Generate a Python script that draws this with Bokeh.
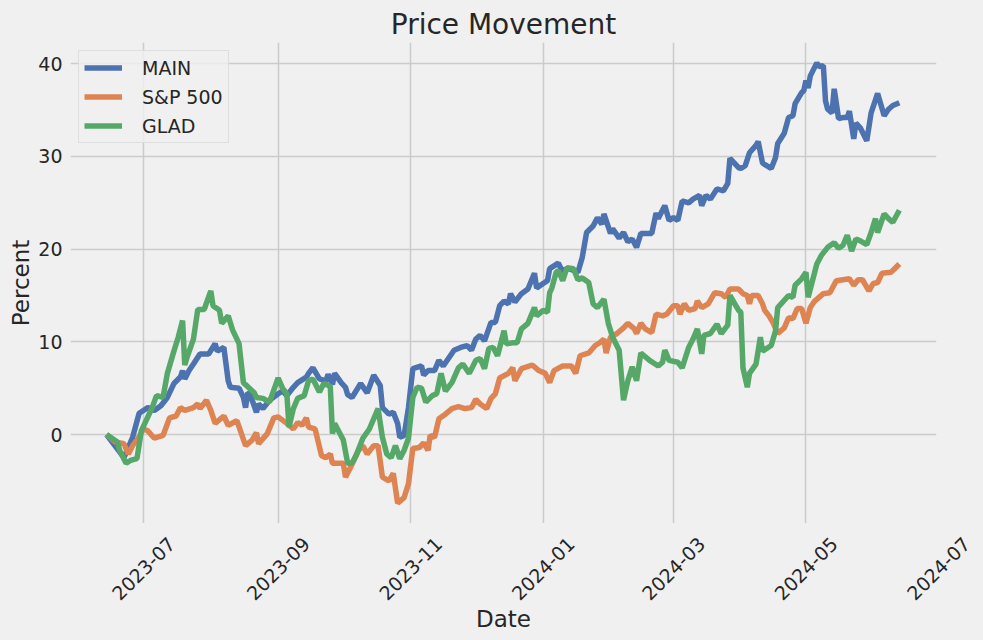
import math
import pandas as pd
from bokeh.plotting import figure
from bokeh.layouts import column
from bokeh.models import SingleIntervalTicker, MonthsTicker, Range1d
from bokeh.embed import file_html
from bokeh.resources import INLINE

# ---------------- data (percent change since start) ----------------
BASE_DATE = "2023-07-01"   # day offsets below are counted from this date

main_day = [-17, -9, -7, -5, -2, 2, 5, 8, 11, 14, 17, 18, 19, 21, 23, 26, 30, 33, 34, 37,
            39, 40, 44, 46, 47, 48, 49, 52, 53, 55, 58, 62, 64, 66, 69, 71, 75, 76, 78, 81,
            84, 85, 87, 88, 91, 93, 94, 96, 100, 103, 106, 109, 110, 113, 115, 117, 118, 120, 122, 124,
            128, 129, 131, 134, 136, 138, 143, 146, 149, 151, 153, 155, 157, 160, 162, 164, 166, 168, 169, 171,
            174, 177, 180, 181, 184, 186, 187, 191, 192, 193, 196, 200, 202, 204, 207, 209, 211, 212, 215, 216,
            219, 221, 223, 225, 227, 229, 234, 236, 237, 240, 242, 244, 246, 248, 251, 253, 256, 257, 259, 261,
            264, 267, 269, 270, 274, 275, 277, 279, 282, 283, 285, 289, 291, 292, 295, 297, 299, 300, 303, 304,
            305, 306, 307, 310, 311, 313, 314, 315, 317, 318, 320, 322, 324, 325, 327, 328, 330, 333, 335, 338,
            341, 343, 345, 348]
main_pct = [0.0, -2.5, -1.4, -0.3, 2.3, 2.9, 2.6, 3.1, 4.0, 5.5, 6.2, 6.9, 6.0, 6.9, 7.6, 8.7, 8.7, 9.8, 9.0, 9.4,
            5.8, 5.1, 5.0, 4.0, 2.9, 4.5, 4.4, 2.4, 3.3, 2.8, 3.7, 4.4, 4.7, 4.2, 5.1, 5.6, 6.2, 6.6, 7.2, 6.0,
            5.8, 6.5, 5.4, 6.6, 5.6, 5.1, 4.3, 4.0, 5.5, 4.5, 6.4, 5.3, 2.9, 2.2, 2.4, 1.2, -0.3, -0.1, 2.9, 7.1,
            7.4, 6.4, 6.9, 6.9, 8.0, 7.4, 9.1, 9.4, 9.6, 9.1, 10.3, 10.7, 10.1, 12.1, 12.1, 13.9, 14.4, 14.1, 15.2, 14.3,
            15.2, 15.7, 17.4, 15.8, 16.3, 16.6, 17.9, 18.5, 18.0, 17.7, 17.9, 17.5, 19.1, 21.8, 22.5, 23.4, 22.7, 23.8, 21.7, 22.2,
            21.2, 21.8, 20.8, 21.1, 20.2, 21.7, 21.7, 23.9, 23.3, 24.7, 23.1, 23.4, 23.1, 25.2, 25.0, 25.4, 25.8, 24.7, 25.8, 25.4,
            26.5, 26.3, 27.1, 29.8, 28.8, 28.7, 29.0, 30.4, 31.2, 31.6, 29.3, 28.7, 29.9, 31.4, 32.5, 34.2, 34.4, 35.7, 36.9, 37.1,
            38.2, 37.4, 38.7, 40.1, 39.7, 39.8, 36.0, 35.1, 34.7, 37.3, 34.1, 34.2, 34.2, 34.9, 31.9, 33.6, 33.1, 31.7, 34.7, 36.8,
            34.4, 35.1, 35.5, 35.8]

sp_day = [-17, -13, -9, -7, -5, -3, 0, 2, 5, 9, 12, 15, 17, 19, 23, 25, 26, 29, 31, 33,
          37, 39, 43, 47, 50, 52, 53, 57, 60, 62, 66, 69, 71, 73, 75, 76, 79, 82, 84, 86,
          87, 92, 93, 95, 99, 101, 103, 106, 108, 110, 113, 115, 117, 120, 122, 124, 127, 129, 131, 132,
          134, 136, 139, 142, 145, 148, 151, 153, 155, 158, 160, 162, 164, 168, 170, 171, 174, 179, 182, 185,
          187, 189, 193, 197, 199, 201, 205, 208, 210, 212, 213, 215, 218, 221, 223, 226, 227, 229, 231, 234,
          236, 239, 241, 244, 246, 247, 249, 251, 254, 255, 257, 260, 263, 266, 268, 270, 274, 276, 278, 279,
          280, 283, 285, 286, 288, 290, 292, 295, 297, 299, 301, 303, 305, 307, 309, 313, 316, 319, 325, 327,
          329, 331, 334, 336, 338, 340, 344, 345, 348]
sp_pct = [0.0, -0.8, -1.0, -2.1, -1.2, -0.6, 0.6, 0.4, -0.4, -0.1, 1.8, 2.0, 2.9, 2.6, 2.9, 3.3, 2.8, 3.7, 2.6, 1.2,
          2.0, 1.0, 1.5, -1.2, -0.6, 0.2, -1.0, 0.1, 1.8, 1.9, 1.2, 0.6, 1.3, 1.0, 1.8, 0.8, 0.6, -2.3, -2.5, -2.1,
          -3.1, -3.1, -4.6, -3.7, -1.7, -1.2, -2.1, -1.2, -1.2, -4.6, -5.0, -4.2, -7.4, -6.8, -5.3, -1.5, -1.4, -0.9, -1.7, -0.1,
          -0.3, 1.7, 2.2, 2.8, 3.0, 2.8, 2.9, 3.8, 3.3, 2.8, 3.9, 4.4, 6.1, 6.6, 7.2, 5.8, 7.1, 7.5, 6.9, 6.6,
          5.6, 6.9, 7.4, 7.4, 6.6, 8.5, 8.8, 9.6, 9.9, 10.3, 8.8, 10.5, 10.9, 11.5, 12.0, 11.4, 10.9, 12.0, 11.4, 11.0,
          13.0, 12.8, 13.0, 13.9, 13.9, 13.0, 14.1, 13.4, 13.6, 14.4, 13.7, 14.1, 15.3, 15.2, 14.8, 15.7, 15.7, 15.2, 15.0, 14.1,
          15.0, 15.0, 14.1, 13.4, 12.8, 12.0, 10.9, 11.5, 12.6, 12.5, 13.6, 13.6, 12.0, 13.7, 14.4, 15.2, 15.3, 16.6, 16.8, 16.1,
          16.7, 16.7, 15.5, 16.3, 16.4, 17.4, 17.5, 17.7, 18.4]

glad_day = [-17, -12, -11, -8, -6, -3, -1, 2, 4, 6, 9, 11, 14, 16, 18, 19, 20, 23, 25, 28,
            29, 31, 32, 35, 36, 39, 41, 44, 46, 51, 52, 55, 58, 62, 64, 66, 67, 69, 71, 74,
            76, 78, 81, 83, 86, 87, 88, 92, 94, 96, 98, 101, 104, 108, 110, 112, 114, 116, 118, 120,
            122, 124, 126, 128, 130, 133, 135, 137, 139, 142, 145, 147, 150, 153, 155, 157, 159, 161, 163, 166,
            167, 170, 172, 174, 177, 180, 181, 184, 186, 187, 188, 190, 191, 193, 195, 198, 200, 202, 205, 207,
            209, 212, 214, 216, 219, 221, 223, 225, 227, 229, 233, 237, 239, 240, 242, 246, 248, 251, 253, 255,
            257, 258, 261, 264, 266, 269, 270, 274, 275, 276, 278, 279, 282, 284, 285, 289, 291, 292, 297, 299,
            300, 303, 305, 306, 308, 310, 312, 313, 315, 318, 320, 322, 324, 326, 328, 330, 333, 335, 337, 338,
            341, 343, 345, 348]
glad_pct = [0.0, -0.8, -1.7, -3.1, -2.8, -2.6, 0.4, 1.9, 2.9, 4.2, 4.0, 6.6, 9.0, 10.5, 12.3, 7.5, 8.3, 10.3, 13.5, 13.5,
            14.2, 15.5, 13.9, 13.4, 12.0, 12.8, 11.3, 9.8, 5.6, 4.5, 4.0, 3.9, 3.5, 6.1, 5.0, 4.4, 0.8, 2.8, 3.9, 4.2,
            5.8, 6.0, 4.6, 5.5, 5.2, 0.1, 1.2, -0.6, -3.1, -3.1, -2.2, -0.4, 0.6, 2.8, -0.3, -2.1, -2.5, -1.2, -2.6, -1.7,
            -0.4, 4.0, 5.1, 5.0, 3.5, 4.2, 4.4, 6.6, 4.7, 5.6, 7.2, 7.6, 6.6, 8.0, 8.2, 7.1, 9.3, 9.4, 8.5, 11.2,
            9.8, 9.9, 9.9, 11.4, 12.0, 13.7, 12.8, 13.4, 13.2, 15.3, 15.8, 17.5, 17.7, 16.6, 18.0, 17.9, 16.7, 16.9, 16.4, 14.1,
            13.7, 14.6, 12.0, 10.5, 9.1, 3.7, 5.8, 7.3, 5.8, 8.8, 8.0, 7.4, 7.8, 9.1, 8.0, 7.8, 7.2, 9.4, 10.3, 11.4,
            8.7, 10.7, 10.9, 11.9, 10.9, 11.8, 15.0, 13.4, 13.2, 7.2, 5.1, 6.6, 7.6, 10.5, 9.0, 9.6, 11.2, 13.7, 15.0, 14.8,
            16.1, 16.8, 17.5, 14.8, 16.6, 18.4, 19.3, 19.6, 20.2, 20.7, 20.1, 20.4, 21.5, 19.8, 21.1, 20.9, 20.5, 21.8, 23.3, 21.8,
            23.8, 23.3, 22.9, 24.2]

series_names = ["MAIN", "S&P 500", "GLAD"]
series_colors = ["#4c72b0", "#dd8452", "#55a868"]

xtick_labels = ["2023-07", "2023-09", "2023-11", "2024-01", "2024-03", "2024-05", "2024-07"]
x_title = "Date"
y_title = "Percent"

assert len(main_day) == len(main_pct)
assert len(sp_day) == len(sp_pct)
assert len(glad_day) == len(glad_pct)


def to_dates(days):
    return pd.Timestamp(BASE_DATE) + pd.to_timedelta(days, unit="D")


# ---------------- layout constants ----------------
BG = "#f0f0f0"
TXT = "#262626"
FONT = "DejaVu Sans"
W, H = 983, 640
FRAME_L, FRAME_R, FRAME_T, FRAME_H = 70, 47, 42, 481
FRAME_W = W - FRAME_L - FRAME_R
MAIN_H = FRAME_T + FRAME_H
STRIP_H = H - MAIN_H

x_start = pd.Timestamp(BASE_DATE) - pd.Timedelta(days=33.6)
x_end = pd.Timestamp(BASE_DATE) + pd.Timedelta(days=365.1)

# ---------------- main figure ----------------
p = figure(width=W, height=MAIN_H, frame_width=FRAME_W, frame_height=FRAME_H,
           x_axis_type="datetime",
           x_range=Range1d(x_start, x_end), y_range=Range1d(-9.6, 42.3),
           output_backend="svg", toolbar_location=None,
           title="Price Movement",
           min_border_left=FRAME_L, min_border_right=FRAME_R,
           min_border_top=FRAME_T, min_border_bottom=0)

p.background_fill_color = BG
p.border_fill_color = BG
p.outline_line_color = None

p.title.text_font = FONT
p.title.text_font_size = "28px"
p.title.text_font_style = "normal"
p.title.text_color = TXT
p.title.align = "center"
p.title.standoff = 4
p.title.offset = 0

for (d, v), name, col in zip([(main_day, main_pct), (sp_day, sp_pct), (glad_day, glad_pct)],
                             series_names, series_colors):
    p.line(to_dates(d), v, line_width=5.5, color=col, legend_label=name)

p.yaxis.ticker = SingleIntervalTicker(interval=10, num_minor_ticks=0)
p.xgrid.ticker = MonthsTicker(months=[0, 2, 4, 6, 8, 10])
p.xaxis.visible = False

ya = p.yaxis[0]
ya.axis_line_color = None
ya.major_tick_line_color = None
ya.minor_tick_line_color = None
ya.major_tick_out = 0
ya.major_tick_in = 0
ya.major_label_text_font = FONT
ya.major_label_text_font_size = "19px"
ya.major_label_text_color = TXT
ya.major_label_standoff = 8
ya.axis_label = y_title
ya.axis_label_text_font = FONT
ya.axis_label_text_font_size = "23px"
ya.axis_label_text_font_style = "normal"
ya.axis_label_text_color = TXT
ya.axis_label_standoff = 1

p.grid.grid_line_color = "#cbcbcb"
p.grid.grid_line_width = 1.5

lg = p.legend[0]
lg.location = "top_left"
lg.margin = 8
lg.padding = 5
lg.spacing = 6
lg.label_height = 23
lg.glyph_height = 23
lg.glyph_width = 38
lg.label_standoff = 20
lg.label_text_font = FONT
lg.label_text_font_size = "19px"
lg.label_text_color = TXT
lg.background_fill_color = BG
lg.background_fill_alpha = 0.8
lg.border_line_color = "#cccccc"
lg.border_line_width = 1

# ---------------- strip below: rotated date tick labels + x-axis title ----------------
# same time scale as the main frame, extended to the right edge so the last label fits
px_per = (x_end - x_start) / FRAME_W
x2_end = x_end + px_per * FRAME_R

p2 = figure(width=W, height=STRIP_H, frame_width=W - FRAME_L, frame_height=STRIP_H,
            x_axis_type="datetime",
            x_range=Range1d(x_start, x2_end), y_range=Range1d(0, STRIP_H),
            output_backend="svg", toolbar_location=None,
            min_border_left=FRAME_L, min_border_right=0,
            min_border_top=0, min_border_bottom=0)
p2.background_fill_color = BG
p2.border_fill_color = BG
p2.outline_line_color = None
p2.grid.visible = False
p2.xaxis.visible = False
p2.yaxis.visible = False

tick_dates = [pd.Timestamp(lab + "-01") for lab in xtick_labels]
p2.text(x=tick_dates, y=[STRIP_H - 45] * len(tick_dates), text=xtick_labels,
        angle=math.pi / 4, text_align="center", text_baseline="middle",
        text_font={"value": FONT}, text_font_size="19px", text_color=TXT)

x_mid = x_start + (x_end - x_start) / 2
p2.text(x=[x_mid], y=[STRIP_H - 95], text=[x_title],
        text_align="center", text_baseline="middle",
        text_font={"value": FONT}, text_font_size="23px", text_color=TXT)

layout = column(p, p2, spacing=0)
html = file_html(layout, INLINE, title="Price Movement")
html = html.replace("</head>", "<style>html, body { background: #f0f0f0; }</style></head>", 1)
with open("out.html", "w") as f:
    f.write(html)
